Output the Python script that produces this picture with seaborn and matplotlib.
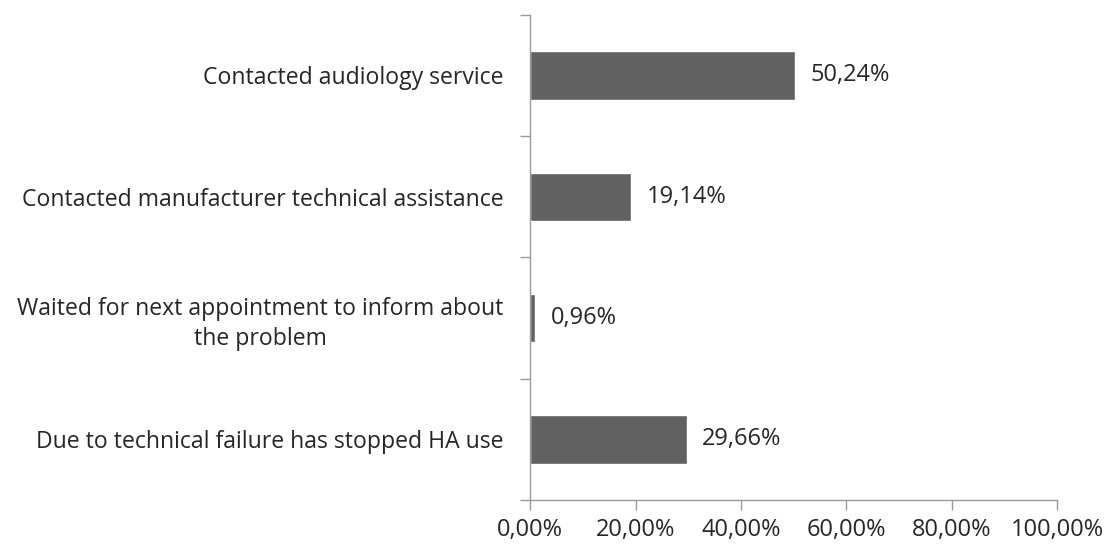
import matplotlib
matplotlib.use("Agg")
import matplotlib.pyplot as plt
import seaborn as sns
import pandas as pd
from matplotlib.ticker import FixedLocator, FuncFormatter

categories = [
    "Contacted audiology service",
    "Contacted manufacturer technical assistance",
    "Waited for next appointment to inform about\nthe problem",
    "Due to technical failure has stopped HA use",
]
percentages = [50.24, 19.14, 0.96, 29.66]
x_ticks = [0, 20, 40, 60, 80, 100]


def pct_label(v):
    return f"{v:.2f}".replace(".", ",") + "%"


sns.set_style("white")
plt.rcParams["font.family"] = ["Open Sans", "DejaVu Sans"]

df = pd.DataFrame({"category": categories, "pct": percentages})

fig = plt.figure(figsize=(11.07, 5.49), dpi=100)
ax = fig.add_axes([0.479, 0.089, 0.476, 0.884])

sns.barplot(data=df, y="category", x="pct", orient="h", color="#616161",
            saturation=1, width=0.4, ax=ax)

ax.set_xlim(0, 100)
ax.set_ylim(len(categories) - 0.5, -0.5)
ax.xaxis.set_major_locator(FixedLocator(x_ticks))
ax.xaxis.set_major_formatter(FuncFormatter(lambda v, _: pct_label(v)))

# category labels on major ticks without marks; boundary ticks as minor
ax.yaxis.set_minor_locator(FixedLocator([i - 0.5 for i in range(len(categories) + 1)]))
ax.tick_params(axis="y", which="major", left=True, length=0, pad=19, labelsize=16.6,
               labelcolor="#262626")
ax.tick_params(axis="y", which="minor", left=True, length=7, width=1, color="#9a9a9a",
               direction="out")
ax.tick_params(axis="x", which="major", bottom=True, length=7, width=1, color="#9a9a9a",
               direction="out", pad=6, labelsize=17, labelcolor="#262626")
for lbl in ax.get_yticklabels():
    lbl.set_horizontalalignment("right")
    lbl.set_multialignment("center")
    lbl.set_linespacing(1.35)
ax.set_xlabel("")
ax.set_ylabel("")

for side in ["top", "right"]:
    ax.spines[side].set_visible(False)
for side in ["left", "bottom"]:
    ax.spines[side].set_color("#9a9a9a")
    ax.spines[side].set_linewidth(1)

for i, v in enumerate(percentages):
    ax.text(v + 2.9, i, pct_label(v), va="center", ha="left",
            fontsize=17, color="#262626")

fig.savefig("out.png", dpi=100)
